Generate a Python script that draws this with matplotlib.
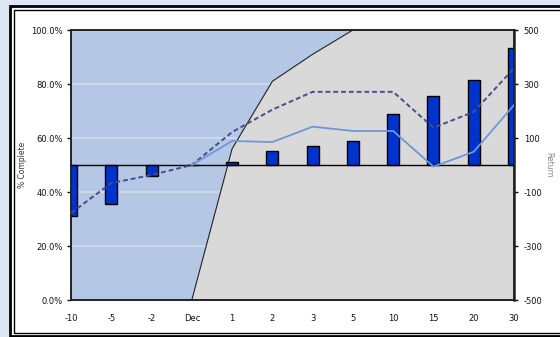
import matplotlib
matplotlib.use("Agg")
import matplotlib.pyplot as plt
from matplotlib.patches import Rectangle
import numpy as np

categories = ["-10", "-5", "-2", "Dec", "1", "2", "3", "5", "10", "15", "20", "30"]
bar_returns = [-190, -145, -40, 0, 10, 52, 71, 89, 190, 255, 316, 434]
pct_complete = [None, None, None, 0, 56, 81, 91, 100, 100, 100, 100, 100]
dashed_returns = [-178, -67, -37, 0, 122, 205, 271, 271, 271, 138, 197, 358]
solid_returns = [None, None, None, 0, 89, 85, 142, 126, 126, -6, 49, 222]

left_ticks = [0, 20, 40, 60, 80, 100]
right_ticks = [-500, -300, -100, 100, 300, 500]

W, H = 560, 337
fig = plt.figure(figsize=(W / 100, H / 100), dpi=100)
fig.patch.set_facecolor("#dde8f4")

# chart frame
fig.patches.append(Rectangle((10 / W, 1 - 336 / H), 1.2, 330 / H, transform=fig.transFigure,
                             facecolor="white", edgecolor="black", lw=2.0, zorder=-10))
fig.patches.append(Rectangle((14 / W, 1 - 333 / H), 1.2, 323.5 / H, transform=fig.transFigure,
                             facecolor="none", edgecolor="black", lw=1.0, zorder=-9))

ax = fig.add_axes([71 / W, 1 - 300 / H, (514 - 71) / W, 270 / H])
ax.set_zorder(1)
ax.set_facecolor("#b4c8e5")
x = np.arange(len(categories))

ax.set_xlim(0, len(categories) - 1)
ax.set_ylim(0, 100)
ax.set_yticks(left_ticks)
ax.set_yticklabels([f"{v:.1f}%" for v in left_ticks])
for v in left_ticks[1:-1]:
    ax.axhline(v, color="#d6dbe6", lw=1.2, zorder=1)

ax_idx = [i for i, v in enumerate(pct_complete) if v is not None]
ax_vals = [pct_complete[i] for i in ax_idx]
ax.fill_between(ax_idx, 0, ax_vals, facecolor="#d9d9d9", edgecolor="none", zorder=2)
ax.plot(ax_idx, ax_vals, color="#222222", lw=0.8, zorder=3)

ax.set_xticks(x)
ax.set_xticklabels(categories)
ax.tick_params(axis="x", length=0, pad=10, labelsize=6, colors="#111111")
ax.tick_params(axis="y", length=3, width=1, pad=3, labelsize=6, colors="#111111", direction="out")
ax.set_ylabel("% Complete", fontsize=5.5, color="#333333", labelpad=3)
for s in ax.spines.values():
    s.set_color("#222222")
    s.set_linewidth(1.2)

ax2 = ax.twinx()
ax2.set_zorder(2)
ax2.set_ylim(-500, 500)
ax2.set_yticks(right_ticks)
ax2.set_yticklabels([str(v) for v in right_ticks])
ax2.tick_params(axis="y", length=3, width=1, pad=4, labelsize=6, colors="#111111", direction="out")
ax2.set_ylabel("Return", fontsize=5.5, color="#888888", rotation=270, labelpad=8)
ax2.patch.set_visible(False)
for s in ax2.spines.values():
    s.set_color("#222222")
    s.set_linewidth(1.2)
ax2.spines["right"].set_linewidth(1.8)

ax2.bar(x, bar_returns, width=0.3, color="#0033cc", edgecolor="black", lw=1.0, zorder=2)
ax2.axhline(0, color="black", lw=1.0, zorder=3)

ax2.plot(x, dashed_returns, color="#4b4b8c", lw=1.4, ls=(0, (2.5, 1.5)), zorder=4)
s_idx = [i for i, v in enumerate(solid_returns) if v is not None]
ax2.plot(s_idx, [solid_returns[i] for i in s_idx], color="#6f96d6", lw=1.3, zorder=4)

ax.set_xlim(0, len(categories) - 1)
fig.savefig("out.png", dpi=100, facecolor=fig.get_facecolor())
